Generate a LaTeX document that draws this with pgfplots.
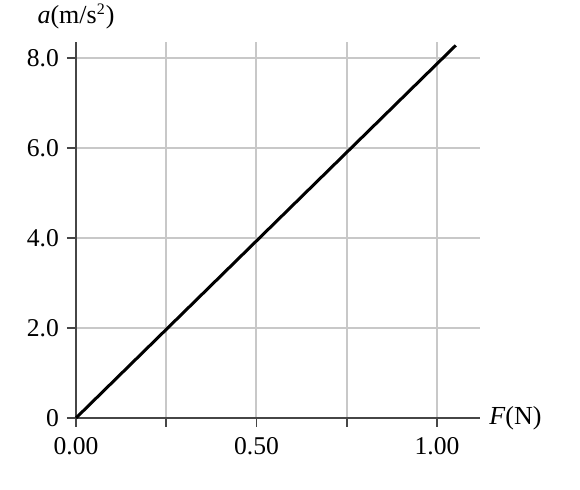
\documentclass[border=0pt]{standalone}
\usepackage{pgfplots}
\pgfplotsset{compat=1.18}
\usepackage{fontspec}
\setmainfont{Liberation Serif}
\definecolor{gridc}{RGB}{200,200,200}
\definecolor{axc}{RGB}{70,70,70}
\begin{document}
\begin{tikzpicture}
\path[use as bounding box] (-38pt,-36pt) rectangle (252pt,209pt);
\begin{axis}[
  at={(0,0)}, anchor=origin,
  x=180.5pt, y=22.5pt,
  xmin=0, xmax=1.12, ymin=0, ymax=8.36,
  axis lines=left,
  axis line style={-, draw=axc, line width=0.9pt},
  xtick={0,0.25,0.5,0.75,1},
  xticklabels={0.00,,0.50,,1.00},
  ytick={0,2,4,6,8},
  yticklabels={0,2.0,4.0,6.0,8.0},
  tick align=outside,
  major tick length=4.5pt,
  tick style={draw=axc, line width=0.9pt},
  xmajorgrids, ymajorgrids,
  major grid style={draw=gridc, line width=1pt},
  /pgf/number format/assume math mode=true,
  ticklabel style={font=\fontsize{12.8}{15}\selectfont},
  xticklabel style={yshift=-1.5pt},
  yticklabel style={xshift=-0.5pt},
  clip=false,
]
\addplot[black, line width=1.5pt] coordinates {(0,0) (1.052,8.28)};
\node[font=\fontsize{13}{15}\selectfont, anchor=south] at (rel axis cs:0,1) [yshift=3pt] {\textit{a}(m/s\textsuperscript{\fontsize{8}{9}\selectfont 2})};
\node[font=\fontsize{13}{15}\selectfont, anchor=west] at (rel axis cs:1,0) [xshift=1pt] {\textit{F}(N)};
\end{axis}
\end{tikzpicture}
\end{document}
